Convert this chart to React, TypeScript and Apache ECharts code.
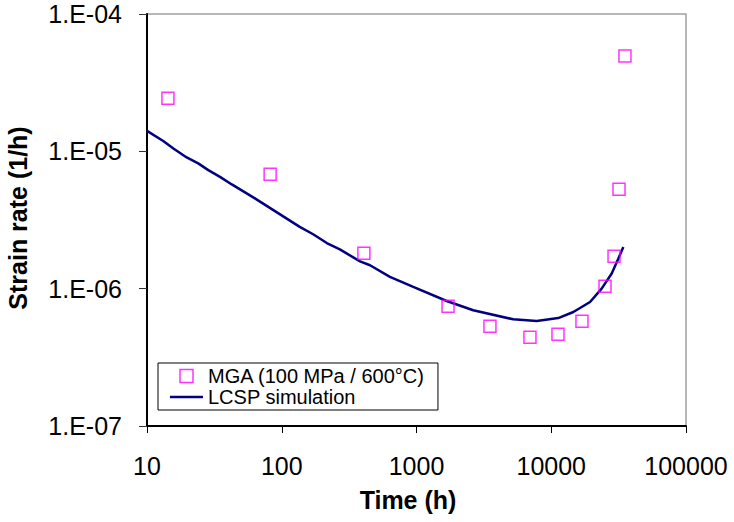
import React, { useEffect, useRef } from "react";
import * as echarts from "echarts";

// Measured data (MGA, 100 MPa / 600°C)
const mgaTime = [14.3, 82, 407, 1714, 3508, 6950, 11220, 16900, 25060, 29240, 31840, 35240];
const mgaRate = [2.44e-5, 6.82e-6, 1.81e-6, 7.45e-7, 5.32e-7, 4.43e-7, 4.66e-7, 5.78e-7, 1.04e-6, 1.72e-6, 5.3e-6, 4.94e-5];

// LCSP simulation curve
const lcspTime = [10, 13.2, 15.7, 19.7, 24.0, 28.5, 34.8, 42.6, 63.2, 136, 171, 216, 270, 381, 452, 635, 946, 1675, 2637, 5222, 7800, 11270, 14590, 19400, 23660, 28100, 31500, 34270];
const lcspRate = [1.41e-5, 1.19e-5, 1.05e-5, 9.03e-6, 8.17e-6, 7.3e-6, 6.52e-6, 5.74e-6, 4.54e-6, 2.82e-6, 2.49e-6, 2.15e-6, 1.93e-6, 1.58e-6, 1.48e-6, 1.22e-6, 1.03e-6, 8.13e-7, 6.96e-7, 5.98e-7, 5.82e-7, 6.11e-7, 6.76e-7, 8.0e-7, 1.0e-6, 1.29e-6, 1.66e-6, 2.01e-6];

const xTitle = "Time (h)";
const yTitle = "Strain rate (1/h)";
const mgaName = "MGA (100 MPa / 600°C)";
const lcspName = "LCSP simulation";

const FONT = "'Liberation Sans', Arial, Helvetica, sans-serif";

export default function App() {
  const ref = useRef<HTMLDivElement>(null);

  useEffect(() => {
    if (!ref.current) return;
    const chart = echarts.init(ref.current, undefined, { renderer: "svg" });
    const option = {
      animation: false,
      backgroundColor: "#ffffff",
      textStyle: { fontFamily: FONT },
      grid: {
        left: 147,
        right: 48,
        top: 14,
        bottom: 96,
        show: true,
        borderColor: "#a0a0a0",
        borderWidth: 1.5,
        backgroundColor: "transparent",
      },
      legend: {
        orient: "vertical",
        left: 158,
        top: 363,
        padding: [3, 13, 3, 12],
        itemGap: 1,
        itemWidth: 33,
        itemHeight: 13,
        borderColor: "#000",
        borderWidth: 1,
        backgroundColor: "#fff",
        selectedMode: false,
        textStyle: { fontSize: 20, color: "#000", fontFamily: FONT },
        data: [
          {
            name: mgaName,
            icon: "path://M0 0H10V10H0Z",
            itemStyle: {
              color: "rgba(255,255,255,0)",
              borderColor: "#ff00ff",
              borderWidth: 1.5,
            },
          },
          {
            name: lcspName,
            icon: "path://M0 0H33V2.5H0Z",
            itemStyle: { color: "#000080", borderWidth: 0 },
          },
        ],
      },
      xAxis: {
        type: "log",
        logBase: 10,
        min: 10,
        max: 100000,
        axisLine: { show: true, lineStyle: { color: "#000", width: 2 } },
        axisTick: { show: true, length: 7, lineStyle: { color: "#000", width: 1 } },
        minorTick: { show: false },
        splitLine: { show: false },
        axisLabel: {
          fontSize: 25,
          color: "#000",
          margin: 27,
          fontFamily: FONT,
          formatter: (v: number) => String(Math.round(v)),
        },
      },
      yAxis: {
        type: "log",
        logBase: 10,
        min: 1e-7,
        max: 1e-4,
        axisLine: { show: true, lineStyle: { color: "#000", width: 2 } },
        axisTick: { show: true, length: 8, lineStyle: { color: "#333", width: 1 } },
        minorTick: { show: false },
        splitLine: { show: false },
        axisLabel: {
          fontSize: 25,
          color: "#000",
          margin: 25,
          fontFamily: FONT,
          formatter: (v: number) => {
            const e = Math.round(Math.log10(v));
            const a = Math.abs(e);
            return "1.E" + (e < 0 ? "-" : "+") + (a < 10 ? "0" : "") + a;
          },
        },
      },
      graphic: [
        {
          type: "text",
          x: 408,
          y: 500,
          style: {
            text: xTitle,
            fontSize: 25,
            fontWeight: "bold",
            fontFamily: FONT,
            fill: "#000",
            align: "center",
            verticalAlign: "middle",
          },
        },
        {
          type: "text",
          x: 18,
          y: 218,
          rotation: Math.PI / 2,
          style: {
            text: yTitle,
            fontSize: 25,
            fontWeight: "bold",
            fontFamily: FONT,
            fill: "#000",
            align: "center",
            verticalAlign: "middle",
          },
        },
      ],
      series: [
        {
          name: lcspName,
          type: "line",
          data: lcspTime.map((t, i) => [t, lcspRate[i]]),
          symbol: "none",
          showSymbol: false,
          smooth: false,
          lineStyle: { color: "#000080", width: 2.5 },
          itemStyle: { color: "#000080" },
          z: 2,
        },
        {
          name: mgaName,
          type: "scatter",
          data: mgaTime.map((t, i) => [t, mgaRate[i]]),
          symbol: "rect",
          symbolSize: 12,
          itemStyle: {
            color: "rgba(255,255,255,0)",
            borderColor: "#ff00ff",
            borderWidth: 1.5,
          },
          z: 3,
        },
      ],
    };
    chart.setOption(option as any);
    return () => {
      chart.dispose();
    };
  }, []);

  return (
    <div
      ref={ref}
      style={{ position: "fixed", left: 0, top: 0, width: 734, height: 522, background: "#fff" }}
    />
  );
}
